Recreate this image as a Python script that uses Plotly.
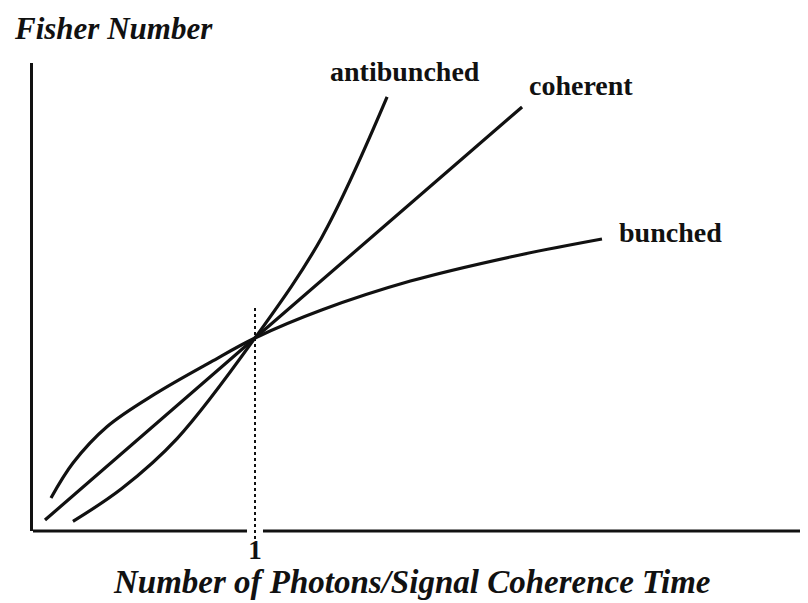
import plotly.graph_objects as go

# Data (x: photons per coherence time, 1 at the crossing; y: Fisher number)
coherent_x = [0.054, 1.0, 2.203]
coherent_y = [0.057, 1.0, 2.197]

antibunched_x = [0.18, 0.40, 0.65, 1.0, 1.30, 1.595]
antibunched_y = [0.05, 0.22, 0.48, 1.0, 1.52, 2.249]

bunched_x = [0.081, 0.18, 0.333, 0.55, 0.8, 1.0, 1.3, 1.7, 2.15, 2.563]
bunched_y = [0.171, 0.352, 0.54, 0.71, 0.875, 1.0, 1.145, 1.295, 1.42, 1.513]

curve_names = ["antibunched", "coherent", "bunched"]
label_pos = {"antibunched": (1.329, 2.383), "coherent": (2.225, 2.311), "bunched": (2.631, 1.549)}

tick_vals = [1]
tick_text = ["1"]

x_title = "Number of Photons/Signal Coherence Time"
y_title = "Fisher Number"

INK = "#111111"
fig = go.Figure()
for name, xs, ys in [("antibunched", antibunched_x, antibunched_y),
                     ("coherent", coherent_x, coherent_y),
                     ("bunched", bunched_x, bunched_y)]:
    fig.add_trace(go.Scatter(x=xs, y=ys, mode="lines", name=name,
                             line=dict(color=INK, width=3.2, shape="spline", smoothing=1.0),
                             showlegend=False, hoverinfo="skip"))

for name in curve_names:
    lx, ly = label_pos[name]
    fig.add_annotation(x=lx, y=ly, text=name, showarrow=False, xanchor="left", yanchor="middle",
                       font=dict(family="Liberation Serif", size=28, color=INK, weight="bold"))

# dotted guide at x = 1
fig.add_shape(type="line", xref="x", yref="paper", x0=1, x1=1, y0=-0.03, y1=0.479,
              line=dict(color=INK, width=2, dash="dot"), layer="above")

# x-axis line with small gap around the tick
gap = 0.036
fig.add_shape(type="line", xref="x", yref="paper", x0=0, x1=1 - gap, y0=0, y1=0,
              line=dict(color=INK, width=3))
fig.add_shape(type="line", xref="x", yref="paper", x0=1 + gap, x1=3.49, y0=0, y1=0,
              line=dict(color=INK, width=3))

fig.add_annotation(xref="paper", yref="paper", x=0.488, y=-0.109, text=x_title, showarrow=False,
                   xanchor="center", yanchor="middle",
                   font=dict(family="Liberation Serif", size=33, color=INK, style="italic", weight="bold"))
fig.add_annotation(xref="paper", yref="paper", x=-0.027, y=1.073, text=y_title, showarrow=False,
                   xanchor="left", yanchor="middle",
                   font=dict(family="Liberation Serif", size=31, color=INK, style="italic", weight="bold"))

fig.update_layout(
    width=808, height=603,
    margin=dict(l=25, r=8, t=55, b=80),
    paper_bgcolor="white", plot_bgcolor="white",
    xaxis=dict(range=[0, 3.491], showgrid=False, zeroline=False, showline=False,
               tickvals=tick_vals, ticktext=tick_text, ticks="",
               tickfont=dict(family="Liberation Serif", size=27, color=INK, weight="bold")),
    yaxis=dict(range=[0, 2.425], showgrid=False, zeroline=False, showline=True,
               linecolor=INK, linewidth=3, showticklabels=False, ticks=""),
)

fig.write_html("out.html")
